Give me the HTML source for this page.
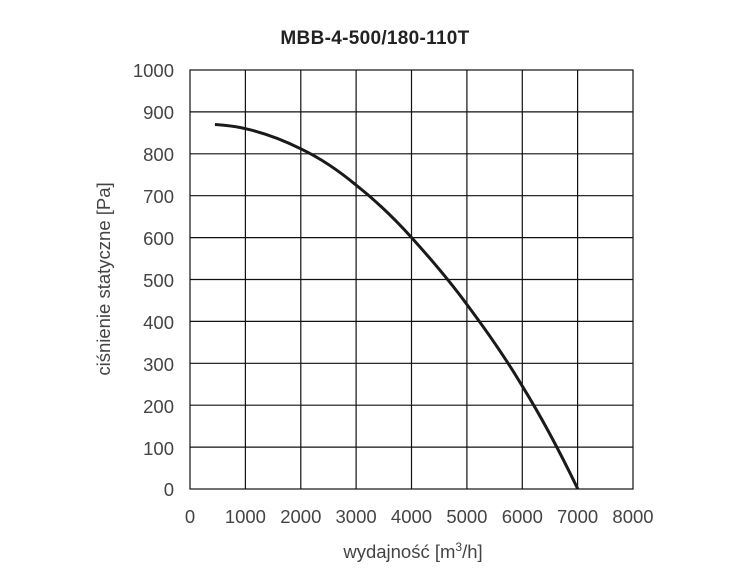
<!DOCTYPE html>
<html><head><style>body{margin:0;background:#fff}svg{display:block}</style></head>
<body>
<svg width="751" height="571" xmlns="http://www.w3.org/2000/svg" font-family="Liberation Sans, sans-serif">
<rect width="751" height="571" fill="#fff"/>
<text x="375" y="44" text-anchor="middle" font-size="19" font-weight="bold" fill="#222" letter-spacing="0.3">MBB-4-500/180-110T</text>
<g stroke="#111" stroke-width="1.2" fill="none">
<rect x="190" y="70" width="443" height="419"/>
<path d="M245.4 70V489M300.8 70V489M356.1 70V489M411.5 70V489M466.9 70V489M522.3 70V489M577.6 70V489"/>
<path d="M190 111.9H633M190 153.8H633M190 195.7H633M190 237.6H633M190 279.5H633M190 321.4H633M190 363.3H633M190 405.2H633M190 447.1H633"/>
</g>
<path d="M214.9 124.5 C230 125.5 238 126.8 245.4 128.7 C265 133 283 140 300.8 148.8 C320 158 338 170 356.2 185.2 C375 200 393 217 411.6 237.6 C430 258 449 280 467 304.6 C486 330 505 357 522.4 386.3 C542 418 560 452 577.8 489" fill="none" stroke="#1a1a1a" stroke-width="3"/>
<g font-size="18.5" fill="#444" text-anchor="end">
<text x="174" y="77">1000</text><text x="174" y="119">900</text><text x="174" y="161">800</text><text x="174" y="203">700</text><text x="174" y="245">600</text><text x="174" y="287">500</text><text x="174" y="329">400</text><text x="174" y="371">300</text><text x="174" y="413">200</text><text x="174" y="455">100</text><text x="174" y="496">0</text>
</g>
<g font-size="18.5" fill="#444" text-anchor="middle">
<text x="190" y="523">0</text><text x="245.4" y="523">1000</text><text x="300.8" y="523">2000</text><text x="356.1" y="523">3000</text><text x="411.5" y="523">4000</text><text x="466.9" y="523">5000</text><text x="522.3" y="523">6000</text><text x="577.6" y="523">7000</text><text x="633" y="523">8000</text>
<text x="413" y="558">wydajność [m<tspan font-size="12" dy="-7">3</tspan><tspan dy="7">/h]</tspan></text>
<text transform="translate(110 279) rotate(-90)">ciśnienie statyczne [Pa]</text>
</g>
</svg>
</body></html>
